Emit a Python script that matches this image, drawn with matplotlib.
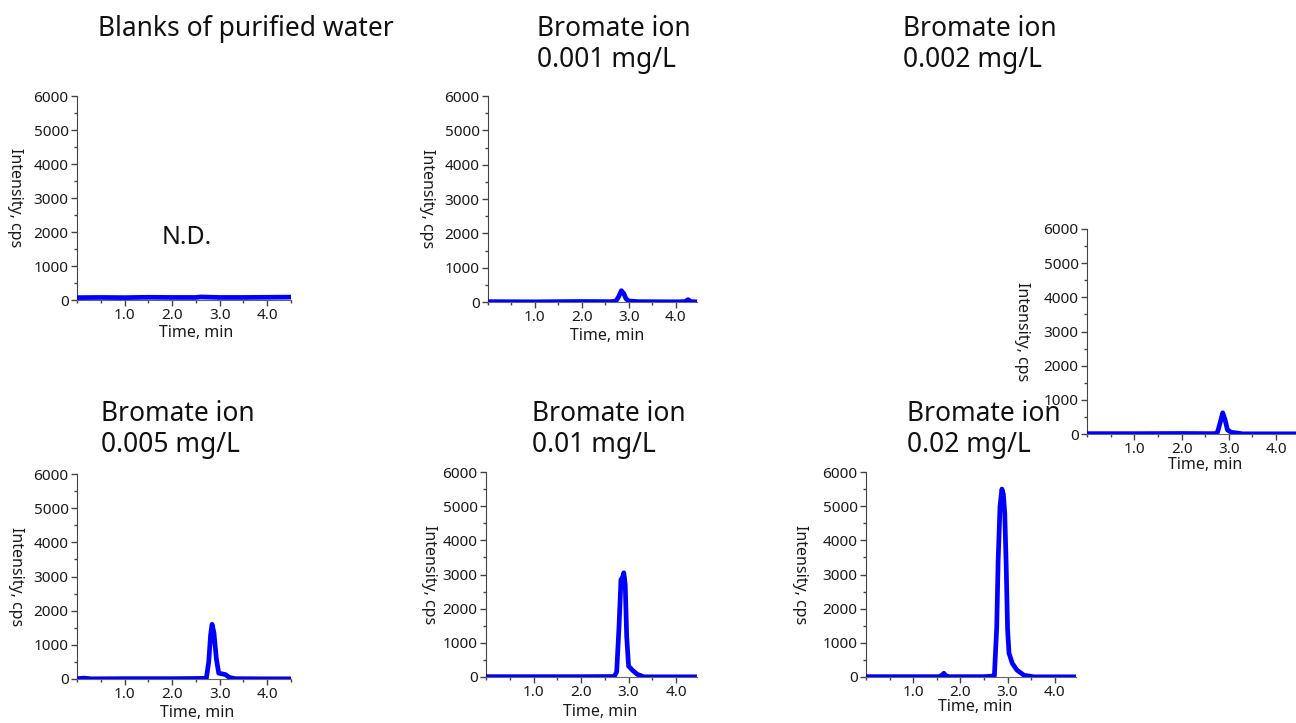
import matplotlib
matplotlib.use("Agg")
import matplotlib.pyplot as plt
from matplotlib.ticker import MultipleLocator, FormatStrFormatter

plt.rcParams["font.family"] = ["Noto Sans", "DejaVu Sans"]

# chromatogram data (time in min, intensity in cps)
blank_t = [0.0, 0.5, 1.0, 1.5, 2.0, 2.5, 2.6, 3.0, 3.5, 4.0, 4.5]
blank_i = [70, 75, 70, 80, 75, 75, 90, 75, 75, 80, 85]

c001_t = [0.0, 1.0, 2.0, 2.6, 2.72, 2.78, 2.84, 2.89, 2.94, 3.0, 3.2, 4.0, 4.2, 4.26, 4.32, 4.45]
c001_i = [10, 5, 15, 10, 20, 150, 330, 250, 90, 30, 10, 5, 10, 70, 10, 5]

c002_t = [0.0, 1.0, 2.0, 2.7, 2.76, 2.82, 2.87, 2.92, 2.97, 3.05, 3.3, 4.45]
c002_i = [10, 10, 15, 10, 50, 350, 620, 420, 120, 50, 5, 5]

c005_t = [0.0, 0.15, 0.3, 1.0, 2.0, 2.5, 2.72, 2.77, 2.81, 2.84, 2.88, 2.93, 2.98, 3.05, 3.12, 3.2, 3.32, 4.0, 4.5]
c005_i = [10, 25, 5, 10, 10, 15, 20, 500, 1300, 1600, 1350, 600, 170, 150, 130, 50, 10, 5, 5]

c01_t = [0.0, 1.0, 2.0, 2.7, 2.75, 2.8, 2.84, 2.87, 2.9, 2.93, 2.96, 3.0, 3.08, 3.18, 3.32, 4.5]
c01_i = [10, 10, 10, 15, 150, 1500, 2850, 2900, 3050, 2700, 1200, 320, 200, 80, 5, 5]

c02_t = [0.0, 1.0, 1.55, 1.62, 1.65, 1.69, 1.75, 2.5, 2.72, 2.77, 2.8, 2.84, 2.88, 2.91,
         2.94, 2.97, 3.0, 3.03, 3.1, 3.2, 3.35, 3.56, 4.5]
c02_i = [10, 10, 10, 60, 110, 40, 10, 10, 30, 1450, 3400, 5000, 5500, 5350,
         4800, 3300, 1400, 700, 400, 200, 50, 5, 5]

titles = ["Blanks of purified water", "Bromate ion\n0.001 mg/L", "Bromate ion\n0.002 mg/L",
          "Bromate ion\n0.005 mg/L", "Bromate ion\n0.01 mg/L", "Bromate ion\n0.02 mg/L"]

W, H = 1296, 723
fig = plt.figure(figsize=(W / 100, H / 100), dpi=100)


def px_axes(left, top, right, bottom):
    # axes rectangle given in pixel coords of the reference image
    return fig.add_axes([left / W, 1 - bottom / H, (right - left) / W, (bottom - top) / H])


# (left, top, right, bottom) px, xmax, title pos, ylabel x, xlabel (x, y)
panels = [
    (blank_t, blank_i, (77, 96, 291, 300), 4.5, (98, 15), -0.29, (0.556, -0.16)),
    (c001_t, c001_i, (488, 96, 697, 302), 4.45, (537, 15), -0.29, (0.57, -0.165)),
    (c002_t, c002_i, (1087, 229, 1296, 434), 4.42, (903, 15), -0.31, (0.565, -0.15)),
    (c005_t, c005_i, (77, 474, 291, 679), 4.5, (101, 400), -0.285, (0.56, -0.165)),
    (c01_t, c01_i, (486, 472, 697, 677), 4.44, (532, 400), -0.27, (0.54, -0.17)),
    (c02_t, c02_i, (866, 472, 1076, 677), 4.45, (907, 400), -0.314, (0.52, -0.146)),
]

for k, (t, y, rect, xmax, tpos, ylx, xlc) in enumerate(panels):
    ax = px_axes(*rect)
    ax.plot(t, y, color="#0000ff", lw=3.4, solid_capstyle="round", solid_joinstyle="round", zorder=3)
    ax.set_xlim(0, xmax)
    ax.set_ylim(0, 6000)
    ax.spines["top"].set_visible(False)
    ax.spines["right"].set_visible(False)
    ax.spines["left"].set_color("#444444")
    ax.spines["bottom"].set_color("#666666")
    ax.xaxis.set_major_locator(MultipleLocator(1.0))
    ax.xaxis.set_minor_locator(MultipleLocator(0.5))
    ax.xaxis.set_major_formatter(FormatStrFormatter("%.1f"))
    ax.yaxis.set_major_locator(MultipleLocator(1000))
    ax.yaxis.set_minor_locator(MultipleLocator(500))
    ax.set_xticks([1.0, 2.0, 3.0, 4.0])
    ax.tick_params(which="major", length=4, width=1, colors="#444444", labelcolor="#1a1a1a",
                   labelsize=11, pad=2)
    ax.tick_params(which="minor", length=2, width=1, colors="#444444")
    ax.set_xlabel("Time, min", fontsize=11.5, color="#1a1a1a", va="center")
    ax.xaxis.set_label_coords(*xlc)
    ax.set_ylabel("Intensity, cps", fontsize=11.5, color="#1a1a1a", rotation=270, va="center")
    ax.yaxis.set_label_coords(ylx, 0.5)
    fig.text(tpos[0] / W, 1 - tpos[1] / H, titles[k], fontsize=19, color="#111111",
             ha="left", va="top", linespacing=1.15, zorder=5)
    if k == 0:
        ax.text(2.3, 1830, "N.D.", fontsize=18, color="#111111", ha="center", va="center")

fig.savefig("out.png", dpi=100)
